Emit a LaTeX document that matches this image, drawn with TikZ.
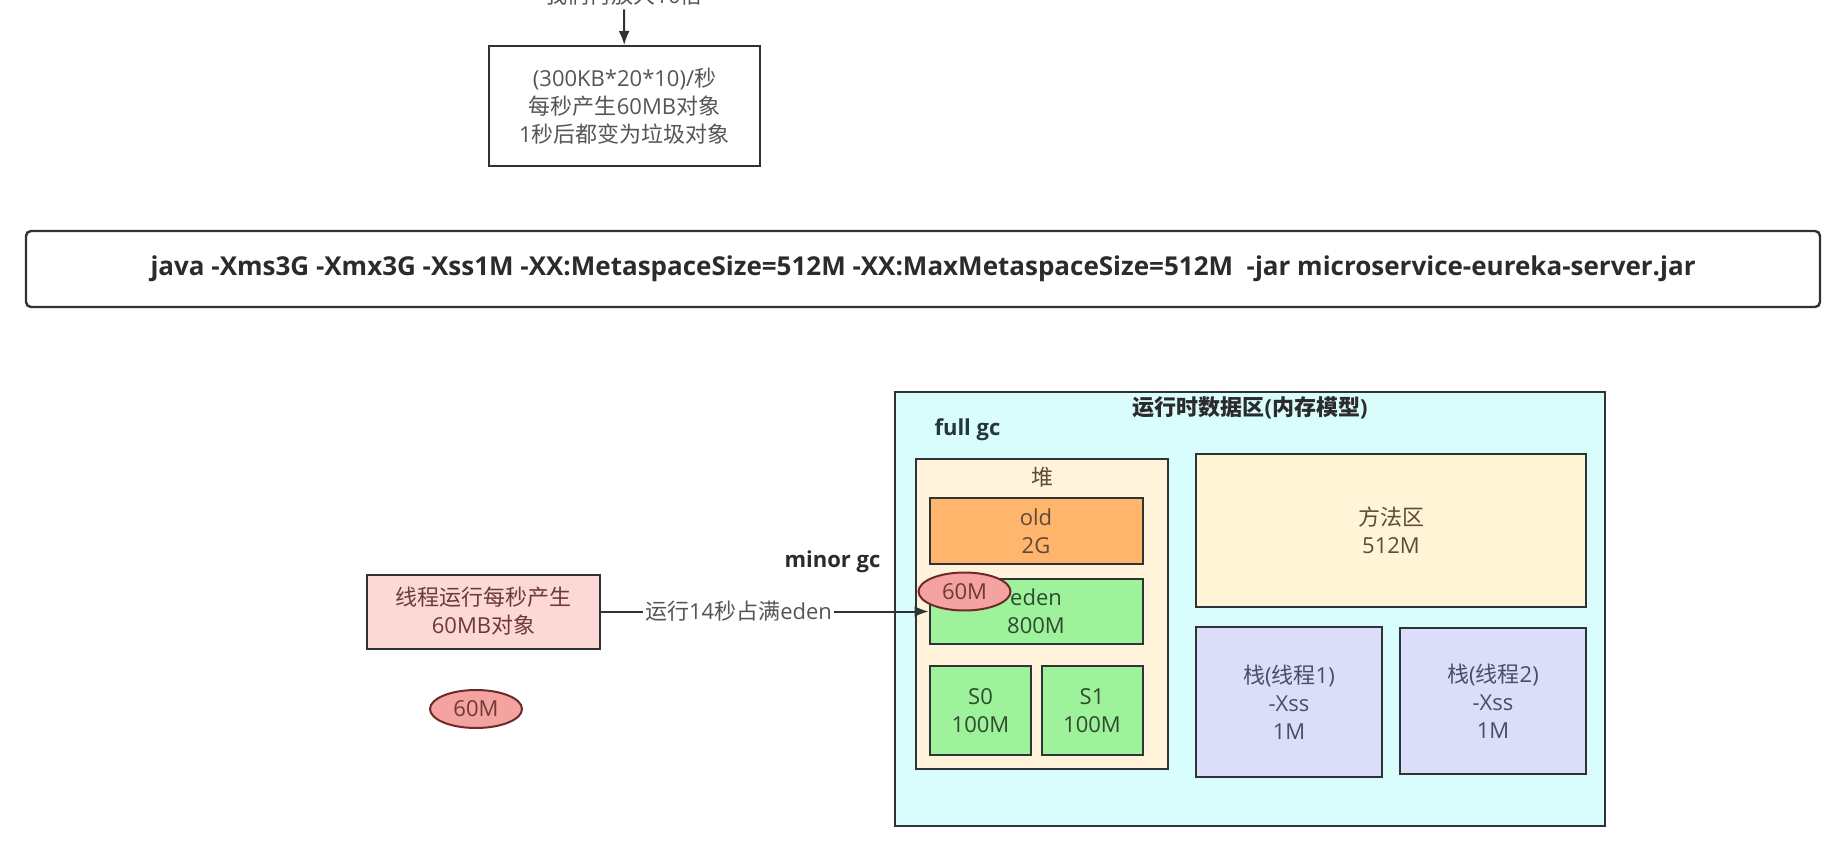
\documentclass[tikz,border=0pt]{standalone}
\usepackage{fontspec}
\setmainfont{Open Sans}
\newfontfamily\cjk{Noto Sans CJK SC}
\usepackage{tikz}
\usetikzlibrary{arrows.meta,shapes}
\tikzset{>={Latex[length=14pt,width=11pt]}}
\definecolor{linegray}{HTML}{2E3336}
\definecolor{txtdark}{HTML}{2B2B2B}
\definecolor{txtgray}{HTML}{555555}
\definecolor{txtslate}{HTML}{263640}
\definecolor{txtbrown}{HTML}{5E4A36}
\definecolor{txtgreen}{HTML}{2F4A2F}
\definecolor{txtlilac}{HTML}{4A4D6A}
\definecolor{txtred}{HTML}{6E3A36}
\definecolor{areacyan}{HTML}{D9FCFC}
\definecolor{heapcream}{HTML}{FFF3DC}
\definecolor{oldorange}{HTML}{FFB66C}
\definecolor{edengreen}{HTML}{9EF29C}
\definecolor{methodcream}{HTML}{FFF4D6}
\definecolor{stacklilac}{HTML}{DCDDF9}
\definecolor{threadpink}{HTML}{FCD9D6}
\definecolor{blobfill}{HTML}{F5A3A0}
\definecolor{blobline}{HTML}{6E2A2A}
\tikzset{
  box/.style={draw=linegray, line width=2pt, align=center, inner sep=0pt},
  blob/.style={ellipse, draw=blobline, fill=blobfill, line width=2pt, text=txtred,
    minimum width=92pt, minimum height=38pt, inner sep=0pt},
  boldlabel/.style={font=\fontsize{22}{28}\selectfont\bfseries}
}

\begin{document}
\begin{tikzpicture}[x=1pt,y=-1pt,font=\fontsize{22}{28}\selectfont]
    \useasboundingbox (0,0) rectangle (1826,842);
    \clip (0,0) rectangle (1826,842);
    %top
    \node[anchor=base,text=txtgray] (scale) at (624,4) {{\cjk 我们再放大}10{\cjk 倍}};
    \node[box,minimum width=271pt,minimum height=120pt,text=txtgray] (calc) at (624.5,106)
      {(300KB*20*10)/{\cjk 秒}\\{\cjk 每秒产生}60MB{\cjk 对象}\\1{\cjk 秒后都变为垃圾对象}};
    \draw[->,line width=2pt,linegray] (scale) -- (calc);
    %command line
    \node[box,rounded corners=5pt,line width=2.4pt,minimum width=1794pt,minimum height=76pt,
      font=\fontsize{26}{30}\selectfont\bfseries,text=txtdark] (cmd) at (923,269)
      {java -Xms3G -Xmx3G -Xss1M -XX:MetaspaceSize=512M -XX:MaxMetaspaceSize=512M~ -jar microservice-eureka-server.jar};
    %runtime data area
    \node[box,fill=areacyan,minimum width=710pt,minimum height=434pt] (area) at (1250,609) {};
    \node[boldlabel,text=txtdark] (areatitle) at (1250,408) {{\cjk\bfseries 运行时数据区}({\cjk\bfseries 内存模型})};
    \node[boldlabel,anchor=west,text=txtslate] (fullgc) at (931,430) {full gc};
    % heap
    \node[box,fill=heapcream,minimum width=252pt,minimum height=310pt] (heap) at (1042,614) {};
    \node[text=txtbrown] (heaplabel) at (1042,477) {\cjk 堆};
    \node[box,fill=oldorange,minimum width=213pt,minimum height=66pt,text=txtbrown] (old) at (1036,531) {old\\2G};
    \node[box,fill=edengreen,minimum width=213pt,minimum height=65pt,text=txtgreen] (eden) at (1036,611.5) {eden\\800M};
    \node[box,fill=edengreen,minimum width=101pt,minimum height=89pt,text=txtgreen] (s0) at (980.5,710.5) {S0\\100M};
    \node[box,fill=edengreen,minimum width=101pt,minimum height=89pt,text=txtgreen] (s1) at (1092,710.5) {S1\\100M};
    % method area and stacks
    \node[box,fill=methodcream,minimum width=390pt,minimum height=153pt,text=txtbrown] (method) at (1391,530.5)
      {{\cjk 方法区}\\512M};
    \node[box,fill=stacklilac,minimum width=186pt,minimum height=150pt,text=txtlilac] (stack1) at (1289,702)
      {{\cjk 栈}({\cjk 线程}1)\\-Xss\\1M};
    \node[box,fill=stacklilac,minimum width=186pt,minimum height=146pt,text=txtlilac] (stack2) at (1493,701)
      {{\cjk 栈}({\cjk 线程}2)\\-Xss\\1M};
    % thread
    \node[box,fill=threadpink,minimum width=233pt,minimum height=74pt,text=txtred] (thread) at (483.5,611.5)
      {{\cjk 线程运行每秒产生}\\60MB{\cjk 对象}};
    \draw[->,line width=2pt,linegray] (thread) -- (eden)
      node[pos=0.42,fill=white,inner sep=2pt,text=txtgray] (fill) {{\cjk 运行}14{\cjk 秒占满}eden};
    \node[boldlabel,anchor=west,text=txtdark] (minorgc) at (781,562) {minor gc};
    % objects
    \node[blob] (objeden) at (964.5,591.5) {60M};
    \node[blob] (objfree) at (476,709) {60M};
\end{tikzpicture}
\end{document}
